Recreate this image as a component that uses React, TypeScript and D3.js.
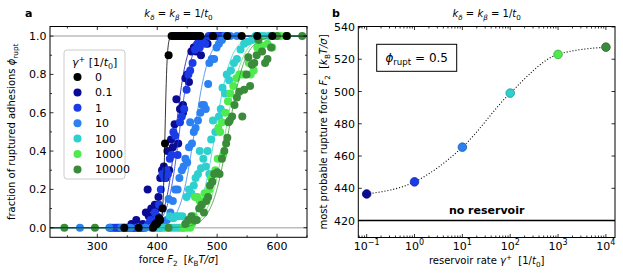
import React from "react";
import * as d3 from "d3";

// ---------- data ----------
const gammaLabels = ["0", "0.1", "1", "10", "100", "1000", "10000"];
const seriesColors = ["#000000", "#0b0b96", "#1b3be6", "#2b80f2", "#2ecfcf", "#4eea4e", "#3a8c3a"];
// logistic fit parameters (midpoint, width) of each series
const fitMid = [413, 431, 437, 462, 497, 514, 519];
const fitWidth = [1.8, 9, 10, 12, 13, 14, 14];

const gamma0 = [[345,0],[369,0],[393,0],[395,0.01],[397,0.02],[399,0.02],[401,0.03],[403,0.05],[405,0.04],[409,0.1],[413,0.44],[419,0.9],[424,1],[427,1],[430,1],[433,1],[436,1],[439,1],[442,1],[445,1],[448,1],[451,1],[454,1],[457,1],[460,1],[463,1],[466,1],[469,1],[472,1],[493,1],[517,1],[541,1],[567,1],[592,1],[616,1]];
const gamma01 = [[322,0],[330,0],[337,0],[344,0],[350,0],[356,0],[362,0],[368,0],[374,0],[357,0.02],[365,0.04],[376,0.02],[381,0.08],[384,0.2],[386,0.06],[390,0.1],[393,0.04],[396,0.12],[399,0.1],[402,0.16],[405,0.26],[408,0.3],[411,0.32],[414,0.26],[417,0.4],[420,0.3],[423,0.46],[426,0.42],[429,0.54],[432,0.67],[435,0.44],[438,0.62],[443,0.6],[443,0.64],[447,0.78],[450,0.8],[453,0.76],[457,0.92],[461,0.94],[465,0.92],[469,0.96],[473,0.9],[478,0.98],[484,0.96],[490,1],[497,1],[505,1]];
const gamma1 = [[326,0],[334,0],[341,0],[348,0],[355,0],[361,0],[367,0],[373,0],[379,0],[385,0.02],[389,0.04],[393,0.02],[396,0.08],[400,0.06],[403,0.12],[406,0.2],[409,0.28],[412,0.26],[415,0.3],[418,0.28],[421,0.36],[424,0.38],[427,0.5],[430,0.48],[434,0.38],[438,0.55],[441,0.58],[445,0.62],[449,0.72],[452,0.8],[455,0.82],[459,0.86],[463,0.93],[467,0.96],[471,0.94],[475,0.98],[480,0.96],[486,1],[492,1],[500,1],[510,1]];
const gamma10 = [[271,0],[320,0],[340,0],[355,0],[368,0],[380,0],[390,0],[398,0],[405,0],[411,0.02],[416,0.04],[419,0.15],[422,0.08],[426,0.14],[430,0.2],[434,0.2],[437,0.26],[441,0.3],[444,0.32],[447,0.36],[450,0.34],[453,0.42],[455,0.55],[458,0.44],[461,0.5],[464,0.52],[468,0.56],[472,0.6],[475,0.64],[478,0.64],[481,0.62],[485,0.75],[487,0.86],[491,0.88],[495,0.88],[499,0.94],[503,0.96],[508,0.98],[514,1],[522,1],[533,1]];
const gamma100 = [[396,0],[402,0],[408,0],[413,0],[418,0],[423,0],[428,0],[433,0],[438,0],[443,0],[421,0.06],[427,0.05],[432,0.06],[437,0.06],[442,0.06],[447,0.02],[451,0.04],[449,0.16],[453,0.2],[457,0.18],[461,0.22],[464,0.26],[468,0.28],[471,0.4],[473,0.31],[477,0.36],[481,0.32],[484,0.4],[487,0.28],[490,0.46],[493,0.56],[497,0.5],[503,0.58],[506,0.62],[509,0.73],[513,0.7],[516,0.8],[520,0.77],[523,0.82],[528,0.86],[533,0.88],[539,0.93],[545,0.96],[551,0.97],[558,0.98],[564,1],[572,1],[578,1],[586,1],[598,1]];
const gamma1000 = [[443,0],[449,0],[455,0],[452,0.02],[458,0.02],[461,0.06],[463,0.16],[467,0.16],[471,0.14],[475,0.12],[479,0.18],[483,0.16],[487,0.2],[490,0.26],[493,0.28],[497,0.3],[501,0.36],[502,0.52],[505,0.5],[508,0.55],[510,0.38],[514,0.6],[518,0.66],[522,0.7],[527,0.74],[532,0.78],[537,0.8],[542,0.8],[547,0.8],[553,0.86],[556,0.8],[561,0.82],[567,0.94],[575,0.95],[584,0.96],[592,0.94],[598,1],[606,1],[614,1]];
const gamma10000 = [[245,0],[296,0],[419,0],[447,0.02],[452,0.04],[457,0.06],[461,0.04],[466,0.04],[470,0.1],[474,0.12],[478,0.08],[482,0.14],[485,0.16],[488,0.22],[492,0.24],[495,0.28],[500,0.29],[504,0.28],[508,0.36],[512,0.4],[515,0.44],[517,0.47],[519,0.55],[521,0.56],[525,0.58],[529,0.64],[533,0.68],[537,0.71],[542,0.58],[545,0.72],[549,0.8],[552,0.89],[555,0.74],[558,0.85],[562,0.86],[566,0.9],[569,0.98],[575,0.92],[580,0.86],[584,0.88],[590,0.94],[600,1],[617,1],[642,1]];
const ruptureSeries = [gamma0, gamma01, gamma1, gamma10, gamma100, gamma1000, gamma10000];

const rateValues = [0.1, 1, 10, 100, 1000, 10000];
const peakForce = [436.5, 444, 465.5, 499, 523, 527.5];

const forceTicks = [300, 400, 500, 600];
const fracTicks = [0, 0.2, 0.4, 0.6, 0.8, 1.0];
const peakTicks = [420, 440, 460, 480, 500, 520, 540];
const rateTicks = [0.1, 1, 10, 100, 1000, 10000];
const rateTickExp = ["\u22121", "0", "1", "2", "3", "4"];

// ---------- helpers ----------
const FONT = "DejaVu Sans, sans-serif";
type Part = { t: string; it?: boolean; sub?: boolean; sup?: boolean };
function M(parts: Part[], fs: number) {
  let cur = 0;
  return parts.map((p, k) => {
    const target = p.sub ? fs * 0.25 : p.sup ? -fs * 0.4 : 0;
    const dy = target - cur;
    cur = target;
    return (
      <tspan key={k} dy={dy} fontStyle={p.it ? "italic" : "normal"} fontSize={p.sub || p.sup ? fs * 0.72 : fs}>
        {p.t}
      </tspan>
    );
  });
}

const titleParts: Part[] = [
  { t: "k", it: true }, { t: "δ", it: true, sub: true }, { t: " = " },
  { t: "k", it: true }, { t: "β", it: true, sub: true }, { t: " = 1/" },
  { t: "t", it: true }, { t: "0", sub: true },
];
const unitParts: Part[] = [
  { t: "\u00a0\u00a0[" }, { t: "k", it: true }, { t: "B", sub: true }, { t: "T/σ", it: true }, { t: "]" },
];

export default function App() {
  const L = { x0: 50, x1: 307, y0: 26.5, y1: 237.3 };
  const R = { x0: 358.3, x1: 615, y0: 26.5, y1: 237.5 };

  const xL = d3.scaleLinear().domain([221, 650]).range([L.x0, L.x1]);
  const yL = d3.scaleLinear().domain([-0.05, 1.05]).range([L.y1, L.y0]);
  const xR = d3.scaleLog().domain([Math.pow(10, -1.175), Math.pow(10, 4.19)]).range([R.x0, R.x1]);
  const yR = d3.scaleLinear().domain([409.5, 540.3]).range([R.y1, R.y0]);

  const fitGrid = d3.range(221, 650.5, 0.5);
  const fitLine = d3.line<number>().x((f) => xL(f));

  const curve = d3
    .line<number>()
    .x((_, i) => xR(rateValues[i]))
    .y((v) => yR(v))
    .curve(d3.curveMonotoneX);

  const drawOrder = [1, 2, 3, 4, 5, 6, 0];

  const minorF = d3.range(250, 651, 50).filter((v) => !forceTicks.includes(v));
  const minorPhi = d3.range(0, 1.01, 0.1).map((v) => +v.toFixed(1)).filter((v) => !fracTicks.includes(v));
  const minorRate: number[] = [];
  for (let e = -2; e <= 4; e++) for (let m = 2; m <= 9; m++) {
    const v = m * Math.pow(10, e);
    const d = xR.domain();
    if (v > d[0] && v < d[1]) minorRate.push(v);
  }

  const tk = 3.5, tm = 2;
  const tickStyle = { stroke: "#000", strokeWidth: 0.8 };

  return (
    <svg width={623} height={275} style={{ display: "block", position: "absolute", left: 0, top: 0 }} fontFamily={FONT}>
      <rect width={623} height={275} fill="#fff" />
      <defs>
        <clipPath id="clipL"><rect x={L.x0} y={L.y0} width={L.x1 - L.x0} height={L.y1 - L.y0} /></clipPath>
        <clipPath id="clipR"><rect x={R.x0} y={R.y0} width={R.x1 - R.x0} height={R.y1 - R.y0} /></clipPath>
      </defs>

      {/* ---------------- panel a ---------------- */}
      <text x={25} y={17} fontSize={11} fontWeight="bold">a</text>
      <text x={(L.x0 + L.x1) / 2} y={17} fontSize={10} textAnchor="middle">{M(titleParts, 10)}</text>
      <g clipPath="url(#clipL)">
        <line x1={L.x0} x2={L.x1} y1={yL(0)} y2={yL(0)} stroke="#bdbdbd" strokeWidth={1.5} />
        <line x1={L.x0} x2={L.x1} y1={yL(1)} y2={yL(1)} stroke="#bdbdbd" strokeWidth={1.5} />
        {drawOrder.map((s) => (
          <g key={s}>
            <path
              d={fitLine.y((f) => yL(1 / (1 + Math.exp(-(f - fitMid[s]) / fitWidth[s]))))(fitGrid) || ""}
              fill="none"
              stroke={seriesColors[s]}
              strokeWidth={0.8}
            />
            {ruptureSeries[s].map((p, i) => (
              <circle key={i} cx={xL(p[0])} cy={yL(p[1])} r={4} fill={seriesColors[s]} />
            ))}
          </g>
        ))}
      </g>
      <rect x={L.x0} y={L.y0} width={L.x1 - L.x0} height={L.y1 - L.y0} fill="none" stroke="#000" strokeWidth={1} />
      {forceTicks.map((v) => (
        <g key={v}>
          <line x1={xL(v)} x2={xL(v)} y1={L.y1} y2={L.y1 - tk} {...tickStyle} />
          <line x1={xL(v)} x2={xL(v)} y1={L.y0} y2={L.y0 + tk} {...tickStyle} />
          <text x={xL(v)} y={250} fontSize={11} textAnchor="middle">{v}</text>
        </g>
      ))}
      {minorF.map((v) => (
        <g key={v}>
          <line x1={xL(v)} x2={xL(v)} y1={L.y1} y2={L.y1 - tm} {...tickStyle} />
          <line x1={xL(v)} x2={xL(v)} y1={L.y0} y2={L.y0 + tm} {...tickStyle} />
        </g>
      ))}
      {fracTicks.map((v) => (
        <g key={v}>
          <line x1={L.x0} x2={L.x0 + tk} y1={yL(v)} y2={yL(v)} {...tickStyle} />
          <line x1={L.x1} x2={L.x1 - tk} y1={yL(v)} y2={yL(v)} {...tickStyle} />
          <text x={46.5} y={yL(v) + 4} fontSize={11} textAnchor="end">{v.toFixed(1)}</text>
        </g>
      ))}
      {minorPhi.map((v) => (
        <g key={v}>
          <line x1={L.x0} x2={L.x0 + tm} y1={yL(v)} y2={yL(v)} {...tickStyle} />
          <line x1={L.x1} x2={L.x1 - tm} y1={yL(v)} y2={yL(v)} {...tickStyle} />
        </g>
      ))}
      <text x={(L.x0 + L.x1) / 2} y={263} fontSize={10} textAnchor="middle">
        {M([{ t: "force " }, { t: "F", it: true }, { t: "2", sub: true }, ...unitParts], 10)}
      </text>
      <text transform={`translate(15,${(L.y0 + L.y1) / 2}) rotate(-90)`} fontSize={10} textAnchor="middle">
        {M([{ t: "fraction of ruptured adhesions " }, { t: "ϕ", it: true }, { t: "rupt", sub: true }], 10)}
      </text>

      {/* legend */}
      <rect x={64} y={50} width={61} height={129} rx={3} fill="#fff" fillOpacity={0.85} stroke="#cccccc" strokeWidth={1} />
      <text x={72} y={66} fontSize={11}>
        {M([{ t: "γ", it: true }, { t: "+", sup: true }, { t: " [1/" }, { t: "t", it: true }, { t: "0", sub: true }, { t: "]" }], 11)}
      </text>
      {gammaLabels.map((g, i) => (
        <g key={g}>
          <circle cx={77.5} cy={77 + i * 15.4} r={4} fill={seriesColors[i]} />
          <text x={95} y={77 + i * 15.4 + 4} fontSize={11}>{g}</text>
        </g>
      ))}

      {/* ---------------- panel b ---------------- */}
      <text x={332} y={17} fontSize={11} fontWeight="bold">b</text>
      <text x={(R.x0 + R.x1) / 2} y={17} fontSize={10} textAnchor="middle">{M(titleParts, 10)}</text>
      <g clipPath="url(#clipR)">
        <line x1={R.x0} x2={R.x1} y1={yR(420)} y2={yR(420)} stroke="#000" strokeWidth={1.5} />
        <path d={curve(peakForce) || ""} fill="none" stroke="#000" strokeWidth={1.1} strokeDasharray="1,2" />
        {rateValues.map((r, i) => (
          <circle
            key={r}
            cx={xR(r)}
            cy={yR(peakForce[i])}
            r={4.3}
            fill={seriesColors[i + 1]}
            stroke={d3.color(seriesColors[i + 1])!.darker(0.9).toString()}
            strokeWidth={0.8}
          />
        ))}
      </g>
      <text x={(R.x0 + R.x1) / 2} y={214} fontSize={11} fontWeight="bold" textAnchor="middle">no reservoir</text>
      <rect x={R.x0} y={R.y0} width={R.x1 - R.x0} height={R.y1 - R.y0} fill="none" stroke="#000" strokeWidth={1} />
      {rateTicks.map((v, i) => (
        <g key={v}>
          <line x1={xR(v)} x2={xR(v)} y1={R.y1} y2={R.y1 - tk} {...tickStyle} />
          <line x1={xR(v)} x2={xR(v)} y1={R.y0} y2={R.y0 + tk} {...tickStyle} />
          <text x={xR(v)} y={250} fontSize={11} textAnchor="middle">
            <tspan>10</tspan>
            <tspan dy={-5} fontSize={8}>{rateTickExp[i]}</tspan>
          </text>
        </g>
      ))}
      {minorRate.map((v) => (
        <g key={v}>
          <line x1={xR(v)} x2={xR(v)} y1={R.y1} y2={R.y1 - tm} {...tickStyle} />
          <line x1={xR(v)} x2={xR(v)} y1={R.y0} y2={R.y0 + tm} {...tickStyle} />
        </g>
      ))}
      {peakTicks.map((v) => (
        <g key={v}>
          <line x1={R.x0} x2={R.x0 + tk} y1={yR(v)} y2={yR(v)} {...tickStyle} />
          <line x1={R.x1} x2={R.x1 - tk} y1={yR(v)} y2={yR(v)} {...tickStyle} />
          <text x={355} y={yR(v) + 4} fontSize={11} textAnchor="end">{v}</text>
        </g>
      ))}
      <text x={(R.x0 + R.x1) / 2} y={264} fontSize={10} textAnchor="middle">
        {M([{ t: "reservoir rate " }, { t: "γ", it: true }, { t: "+", sup: true }, { t: "\u00a0\u00a0[1/" }, { t: "t", it: true }, { t: "0", sub: true }, { t: "]" }], 10)}
      </text>
      <text transform={`translate(327,${(R.y0 + R.y1) / 2}) rotate(-90)`} fontSize={10} textAnchor="middle">
        {M([{ t: "most probable rupture force " }, { t: "F", it: true }, { t: "2", sub: true }, ...unitParts], 10)}
      </text>
      <rect x={376.7} y={44.3} width={80} height={27} fill="#fff" stroke="#000" strokeWidth={1} />
      <text x={416.7} y={62} fontSize={12} textAnchor="middle">
        {M([{ t: "ϕ", it: true }, { t: "rupt", sub: true }, { t: " = 0.5" }], 12)}
      </text>
    </svg>
  );
}
